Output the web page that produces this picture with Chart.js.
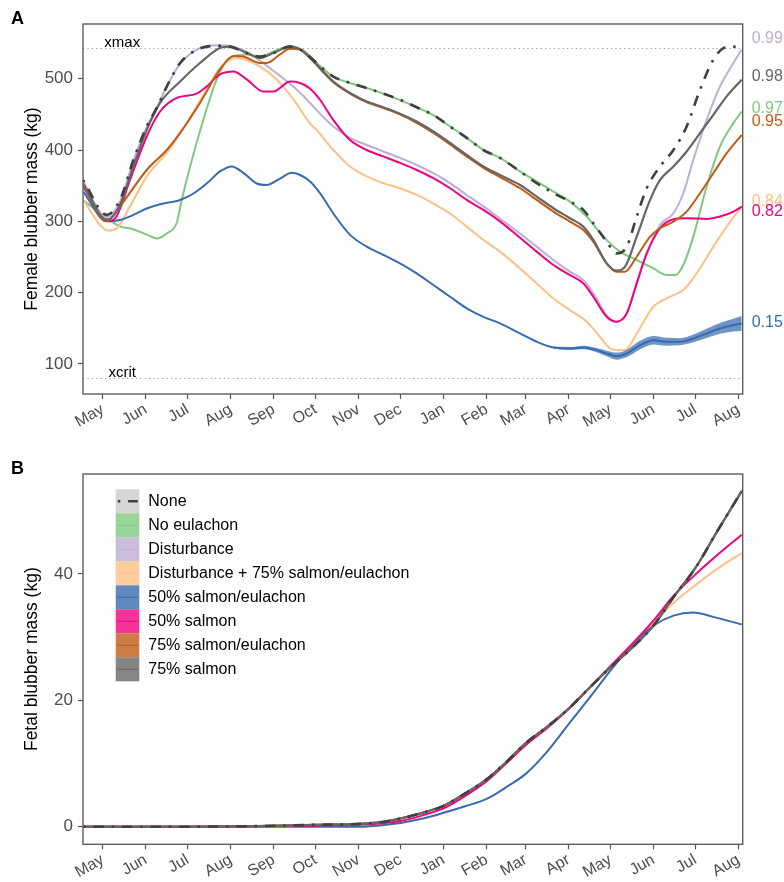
<!DOCTYPE html>
<html>
<head>
<meta charset="utf-8">
<script src="https://cdn.jsdelivr.net/npm/chart.js@4.4.1/dist/chart.umd.min.js"></script>
<style>
  html, body { margin: 0; padding: 0; background: #ffffff; }
  #wrap { position: relative; width: 784px; height: 882px; overflow: hidden; }
  canvas { position: absolute; left: 0; }
</style>
</head>
<body>
<div id="wrap">
  <canvas id="panelA" width="784" height="440" style="top:0px;width:784px;height:440px"></canvas>
  <canvas id="panelB" width="784" height="432" style="top:450px;width:784px;height:432px"></canvas>
</div>
<script>
// ---- time axis: days counted from 1 May of the first year ----
const monthDays   = [0, 31, 61, 92, 123, 153, 184, 214, 245, 276, 304, 335, 365, 396, 426, 457];
const monthLabels = ['May','Jun','Jul','Aug','Sep','Oct','Nov','Dec','Jan','Feb','Mar','Apr','May','Jun','Jul','Aug'];
const dayRange    = [-14.2, 460.1];

// ---- scenarios ----
const scenarios = ['None', 'No eulachon', 'Disturbance', 'Disturbance + 75% salmon/eulachon',
                   '50% salmon/eulachon', '50% salmon', '75% salmon/eulachon', '75% salmon'];
const scenarioColors = ['#404040', '#7FC97F', '#BEAED4', '#FDC086', '#386CB0', '#F0027F', '#BF5B17', '#666666'];
const keyFills = ['rgba(204,204,204,0.8)', 'rgba(127,201,127,0.8)', 'rgba(190,174,212,0.8)', 'rgba(253,192,134,0.8)',
                  'rgba(56,108,176,0.8)', 'rgba(240,2,127,0.8)', 'rgba(191,91,23,0.8)', 'rgba(102,102,102,0.8)'];
// probability shown at the right end of each female trajectory
const endProbability = [null, 0.97, 0.99, 0.84, 0.15, 0.82, 0.95, 0.98];

// ---- reference levels (kg) ----
const xmaxLevel  = 543.5;
const xcritLevel = 80;

// ---- panel A: female blubber mass (kg), [day, kg] ----
const femaleNone = [[-14.2,358],[2.9,309],[12.4,330],[22,386],[31.6,433],[38.8,459],[46,489],[55.6,522],[65.2,538],[74.7,545],[84.3,546],[91.5,545],[103.5,536],[113.1,531],[122.7,536],[134.7,545],[141.9,541],[149.1,530],
  [153.8,522],[165.8,503],[177.8,494],[189.8,487],[201.7,479],[213.7,470.5],[225.7,460],[237.7,449],[249.7,433],[261.7,417],[273.7,400],[285.6,389],[300,370],
  [312,353.5],[324,339.5],[335.9,327.7],[345.5,316],[352.7,297.3],[362.3,271.5],[369.5,255],[376.7,264.5],[383.9,306.7],[391.1,346.4],[400.7,377],[410.3,400],[419.8,433],[429.4,484.5],[439,526.7],[446.2,543],[452,545],[459.4,544.5]];

const femaleNoEulachon = [[-14.2,330],[2.9,304],[12.4,293],[22,289],[31,282],[39,276],[46,283],[53.2,298],[56.8,330],[62.8,377],[72.3,442],[81.9,499],[91.5,529],[103.5,534],[113.1,531],[122.7,538],[134.7,546],[141.9,542],[149.1,532],
  [153.8,522],[165.8,503],[177.8,494],[189.8,487],[201.7,479],[213.7,470],[225.7,460],[237.7,449],[249.7,433],[261.7,417],[273.7,400],[285.6,389],[300,370],
  [312,355.8],[324,341.8],[335.9,327.7],[347.9,306.7],[359.9,278.6],[371.9,257.5],[383.9,245.8],[395.9,234],[405.5,224.7],[411.5,224.7],[417.4,238.8],[424.6,278.6],[434.2,348.8],[443.8,405],[453.4,437.7],[459.4,454]];

const femaleDisturbance = [[-14.2,356],[2.9,306],[12.4,328],[22,385],[31.6,432],[38.8,459],[46,489],[55.6,521],[65.2,538],[74.7,546],[84.3,547],[91.5,546],[103.5,538],[118,518],[137,489],[149.1,466],
  [153.8,456],[165.8,433],[177.8,417],[189.8,407],[201.7,398],[213.7,389],[225.7,379],[237.7,367.5],[249.7,353.5],[261.7,337],[273.7,321],[285.6,304],[300,283],
  [312,264.5],[324,245.8],[335.9,229.4],[345.5,217.7],[352.7,199],[362.3,168.5],[369.5,159.2],[376.7,170.9],[383.9,213],[391.1,255],[400.7,294.9],[410.3,311.3],[417.4,339.4],[424.6,386.2],[434.2,442.4],[443.8,489.2],[453.4,522],[459.4,540.7]];

const femaleDist75 = [[-14.2,330],[4,287],[10,290],[19.6,321],[31.6,363],[46,396],[60.4,438],[74.7,485],[84.3,515],[96.3,529],[108.3,522],[122.7,503],[137.1,471],[149.1,437],
  [153.8,428],[165.8,400],[177.8,377],[189.8,363],[201.7,353.5],[213.7,346.4],[225.7,337],[237.7,325],[249.7,311],[261.7,292.6],[273.7,274],[285.6,257.5],[300,234],
  [312,213],[324,191.9],[335.9,175.6],[347.9,159.2],[357.5,138.1],[364.7,121.7],[369.5,119.4],[375.5,119.4],[383.9,142.8],[395.9,180.3],[407.9,194.3],[417.4,203.7],[427,227.1],[439,264.5],[448.6,292.6],[459.4,320.7]];

const femaleSE50 = [[-14.2,342],[2.9,300],[12.4,302],[22,309],[31.6,318],[41.2,324],[55.6,330],[65.2,339],[74.7,353],[84.3,370],[92.7,377],[101.1,368],[110.7,353],[117.9,351],[127.5,360],[135.9,368],[141.9,365],[149.1,356],
  [156.2,339.5],[165.8,311],[177.8,281],[189.8,264.5],[201.7,253],[213.7,241],[225.7,227],[237.7,210.7],[249.7,194.3],[261.7,178],[273.7,166],[285.6,157],[300,142.8],
  [312,131.1],[324,123.1],[335.9,121.7],[345.5,123.1],[355.1,119.4],[362.3,114.7],[369.5,111],[376.7,114.7],[386.3,126.4],[395.9,133.4],[405.5,131.1],[415,131.1],[424.6,135.8],[434.2,142.8],[443.8,149.8],[453.4,154.5],[459.4,156.8]];

// uncertainty band for 50% salmon/eulachon: [day, low, high]
const femaleSE50Band = [[324,121.8,124.4],[335.9,119.7,123.7],[345.5,120.6,125.6],[355.1,116.4,122.4],[362.3,110.7,118.7],[369.5,106,116],[376.7,109.7,119.7],[386.3,120.4,132.4],[395.9,127.4,139.4],[405.5,125.6,136.6],[415,126.1,136.1],[424.6,130.3,141.3],[434.2,136.3,149.3],[443.8,142.3,157.3],[453.4,145.5,163.5],[459.4,146.3,167.3]];

const femaleS50 = [[-14.2,349],[4.1,300],[10,307],[19.6,358],[31.6,419],[41.2,454],[53.2,473],[67.5,479],[74.7,489],[84.3,506],[93.9,510],[103.5,499],[115.5,482],[122.7,482],[134.7,496],[141.9,494],[149.1,486],
  [156.2,470.5],[165.8,442],[177.8,414],[189.8,400],[201.7,391],[213.7,382],[225.7,372],[237.7,360.5],[249.7,346.4],[261.7,330],[273.7,316],[285.6,300],[300,277],
  [312,257.5],[324,238.8],[335.9,224.7],[345.5,213],[352.7,194.3],[362.3,166.2],[369.5,159.2],[376.7,170.9],[383.9,213],[391.1,255],[400.7,290.3],[410.3,302.9],[419.8,304.3],[434.2,303.4],[443.8,306.7],[453.4,313.7],[459.4,320.7]];

const femaleSE75 = [[-14.2,351],[2.9,300],[12.4,321],[31.6,372],[46,400],[55.6,424],[69.9,466],[84.3,513],[93.9,532],[101.1,531],[113.1,522],[117.9,522],[127.5,534],[134.7,542],[141.9,541],[149.1,529],
  [153.8,519],[165.8,495],[177.8,479],[189.8,467],[201.7,459],[213.7,450],[225.7,438],[237.7,424],[249.7,408],[261.7,391],[273.7,375],[285.6,362],[300,346.4],
  [312,330],[324,313.7],[335.9,299.6],[345.5,288],[352.7,271.5],[362.3,241.1],[369.5,229.4],[375.5,229.4],[383.9,250.4],[393.5,278.6],[400.7,290.3],[410.3,299.6],[419.8,313.7],[429.4,339.4],[439,367.5],[448.6,395.6],[459.4,421.3]];

const femaleS75 = [[-14.2,353],[2.9,302],[12.4,323],[22,377],[31.6,428],[41.2,466],[55.6,496],[69.9,522],[84.3,543],[91.5,545],[103.5,536],[113.1,529],[122.7,536],[134.7,545],[141.9,541],[149.1,529],
  [153.8,520],[165.8,496],[177.8,480],[189.8,468],[201.7,460],[213.7,451],[225.7,440],[237.7,426],[249.7,410],[261.7,393],[273.7,377],[285.6,365],[300,351],
  [312,334.7],[324,318.4],[335.9,304.3],[345.5,292.6],[352.7,273.9],[362.3,241.1],[369.5,230.8],[375.5,236.4],[383.9,278.6],[393.5,330],[400.7,358.1],[410.3,376.9],[419.8,398],[429.4,423.7],[439,449.4],[448.6,475.2],[459.4,498.6]];

// ---- panel B: fetal blubber mass (kg), [day, kg] ----
const fetalFull = [[-14.2,0],[61,0],[92,0.05],[123,0.15],[153,0.3],[184,0.45],[199,0.7],[214,1.3],[230,2.2],[245,3.3],[260,5.2],[276,7.5],[290,10.2],[304,13.2],[320,15.9],[335,18.7],[350,22],[365.4,25.3],[381,28.4],[395.9,31.8],[410.3,36.3],[426.6,41.1],[441.4,46.6],[459.4,53.1]];
const fetalDist75 = [[-14.2,0],[61,0],[92,0.05],[123,0.15],[153,0.3],[184,0.45],[199,0.7],[214,1.3],[230,2.2],[245,3.3],[260,5.2],[276,7.5],[290,10.2],[304,13.2],[320,15.9],[335,18.7],[350,22],[365.4,25.3],[381,28.4],[397,32.4],[410.3,35.4],[426.6,38.3],[443.8,41.1],[459.4,43.3]];
const fetalSE50 = [[-14.2,0],[153,0],[184,0],[199,0.2],[214,0.6],[230,1.3],[245,2.2],[260,3.2],[276,4.4],[290.4,6.3],[304.3,8.4],[319.2,11.8],[335.2,16.3],[350.3,20.5],[365.4,24.8],[381.5,29],[395.9,31.8],[410.3,33.4],[424.7,33.9],[439,33.2],[459.4,32.0]];
const fetalS50 = [[-14.2,0],[92,0],[123,0.1],[153,0.2],[184,0.3],[199,0.5],[214,0.9],[230,1.8],[245,2.9],[260,4.8],[276,7.2],[290,10],[304,12.9],[320,15.7],[335,18.6],[350,22],[365.4,25.5],[381,29],[395.9,32.6],[410.3,36.5],[426.6,40],[441.4,42.9],[459.4,46.2]];

const femaleSeries = [femaleNone, femaleNoEulachon, femaleDisturbance, femaleDist75, femaleSE50, femaleS50, femaleSE75, femaleS75];
const fetalSeries  = [fetalFull, fetalFull, fetalFull, fetalDist75, fetalSE50, fetalS50, fetalFull, fetalFull];

// ---- axis ticks ----
const femaleTicks = [100, 200, 300, 400, 500];
const fetalTicks  = [0, 20, 40];

// ---------------------------------------------------------------
const FONT = "'Liberation Sans', Arial, Helvetica, sans-serif";
const NONE_DASH = [2.6, 7.8, 10.4, 7.8];
const toXY = pairs => pairs.map(p => ({ x: p[0], y: p[1] }));

// draw order: first dataset ends up on top
const drawOrder = [0, 7, 6, 5, 4, 3, 2, 1];

function scenarioDatasets(series) {
  return drawOrder.map(i => {
    const isNone = i === 0;
    return {
      label: scenarios[i],
      data: toXY(series[i]),
      borderColor: scenarioColors[i],
      backgroundColor: scenarioColors[i],
      borderWidth: isNone ? 2.6 : (i === 7 ? 2.2 : 2),
      borderDash: isNone ? NONE_DASH : [],
      borderCapStyle: 'butt',
      borderJoinStyle: 'round',
      pointRadius: 0,
      fill: false,
      cubicInterpolationMode: 'monotone'
    };
  });
}

function xAxis(height) {
  return {
    type: 'linear',
    min: dayRange[0],
    max: dayRange[1],
    afterBuildTicks: s => { s.ticks = monthDays.map(v => ({ value: v })); },
    afterFit: s => { s.height = height; },
    ticks: {
      autoSkip: false, minRotation: 30, maxRotation: 30, padding: 1,
      color: '#4d4d4d', font: { family: FONT, size: 16 },
      callback: (v, i) => monthLabels[i]
    },
    grid: { drawOnChartArea: false, drawTicks: true, tickLength: 5, tickColor: '#555555', tickWidth: 1.2 },
    border: { display: false }
  };
}

function yAxis(min, max, ticks, title) {
  return {
    type: 'linear', min, max,
    afterBuildTicks: s => { s.ticks = ticks.map(v => ({ value: v })); },
    afterFit: s => { s.width = 83; },
    ticks: { padding: 5, color: '#4d4d4d', font: { family: FONT, size: 17 } },
    grid: { drawOnChartArea: false, drawTicks: true, tickLength: 5, tickColor: '#555555', tickWidth: 1.2 },
    border: { display: false },
    title: { display: true, text: title, color: '#000000', font: { family: FONT, size: 17.5 }, padding: { top: 22, bottom: 0 } }
  };
}

const framePlugin = {
  id: 'panelFrame',
  afterDraw(chart, args, opts) {
    const { ctx, chartArea: a } = chart;
    ctx.save();
    ctx.strokeStyle = '#5e5e5e';
    ctx.lineWidth = 1.4;
    ctx.strokeRect(a.left, a.top, a.right - a.left, a.bottom - a.top);
    ctx.fillStyle = '#000000';
    ctx.font = 'bold 18px ' + FONT;
    ctx.textBaseline = 'middle';
    ctx.textAlign = 'left';
    ctx.fillText(opts.letter, 11, 19);
    ctx.restore();
  }
};

const levelsPlugin = {
  id: 'massLevels',
  beforeDatasetsDraw(chart) {
    const { ctx, chartArea: a, scales } = chart;
    const y = scales.y, x = scales.x;
    ctx.save();
    ctx.strokeStyle = '#9c9c9c';
    ctx.lineWidth = 1;
    ctx.setLineDash([1.2, 3.2]);
    [[xmaxLevel, 'xmax'], [xcritLevel, 'xcrit']].forEach(([lvl, txt]) => {
      const py = Math.round(y.getPixelForValue(lvl)) + 0.5;
      ctx.beginPath(); ctx.moveTo(a.left, py); ctx.lineTo(a.right, py); ctx.stroke();
      ctx.fillStyle = '#000000';
      ctx.font = '15px ' + FONT;
      ctx.textAlign = 'center';
      ctx.textBaseline = 'middle';
      ctx.fillText(txt, x.getPixelForValue(14), py - 6);
    });
    ctx.restore();
  },
  afterDraw(chart, args, opts) {
    const { ctx, chartArea: a, scales } = chart;
    const nudges = opts.nudges;
    ctx.save();
    ctx.font = '16px ' + FONT;
    ctx.textAlign = 'left';
    ctx.textBaseline = 'middle';
    endProbability.forEach((p, i) => {
      if (p === null) return;
      const s = femaleSeries[i];
      const last = s[s.length - 1][1];
      ctx.fillStyle = scenarioColors[i];
      ctx.fillText(p.toFixed(2), a.right + 9, scales.y.getPixelForValue(last) + nudges[i]);
    });
    ctx.restore();
  }
};

const keyPlugin = {
  id: 'scenarioKey',
  afterDraw(chart) {
    const { ctx, chartArea: a } = chart;
    const x0 = a.left + 32.7, y0 = a.top + 15.3, kw = 23.6, kh = 24;
    ctx.save();
    scenarios.forEach((name, i) => {
      const y = y0 + i * kh;
      ctx.fillStyle = keyFills[i];
      ctx.fillRect(x0, y, kw, kh);
      ctx.strokeStyle = scenarioColors[i];
      ctx.lineCap = 'butt';
      if (i === 0) { ctx.lineWidth = 2.6; ctx.setLineDash(NONE_DASH); }
      else { ctx.lineWidth = 1; ctx.setLineDash([]); }
      ctx.beginPath();
      ctx.moveTo(x0 + 2, y + kh / 2);
      ctx.lineTo(x0 + kw - 1.5, y + kh / 2);
      ctx.stroke();
      ctx.setLineDash([]);
      ctx.fillStyle = '#000000';
      ctx.font = '16px ' + FONT;
      ctx.textAlign = 'left';
      ctx.textBaseline = 'middle';
      ctx.fillText(name, x0 + kw + 9, y + kh / 2 + 0.5);
    });
    ctx.restore();
  }
};

// ---- panel A ----
const bandData = {
  lo: femaleSE50Band.map(r => ({ x: r[0], y: r[1] })),
  hi: femaleSE50Band.map(r => ({ x: r[0], y: r[2] }))
};
const datasetsA = scenarioDatasets(femaleSeries);
const se50Index = datasetsA.findIndex(d => d.label === '50% salmon/eulachon');
datasetsA.splice(se50Index + 1, 0,
  { label: 'band-hi', data: bandData.hi, borderWidth: 0, borderColor: 'rgba(0,0,0,0)', pointRadius: 0,
    backgroundColor: 'rgba(56,108,176,0.72)', fill: '+1', cubicInterpolationMode: 'monotone' },
  { label: 'band-lo', data: bandData.lo, borderWidth: 0, borderColor: 'rgba(0,0,0,0)', pointRadius: 0,
    fill: false, cubicInterpolationMode: 'monotone' });

new Chart(document.getElementById('panelA'), {
  type: 'line',
  data: { datasets: datasetsA },
  options: {
    responsive: false,
    animation: false,
    parsing: false,
    layout: { padding: { top: 24, right: 41.3, left: 0, bottom: 0 } },
    scales: {
      x: xAxis(46),
      y: yAxis(57.9, 576.7, femaleTicks, 'Female blubber mass (kg)')
    },
    plugins: {
      legend: { display: false },
      tooltip: { enabled: false },
      panelFrame: { letter: 'A' },
      massLevels: { nudges: [0, -2.5, -10.8, -5.2, -1.2, 4.8, -12.8, -3.5] }
    }
  },
  plugins: [framePlugin, levelsPlugin]
});

// ---- panel B ----
new Chart(document.getElementById('panelB'), {
  type: 'line',
  data: { datasets: scenarioDatasets(fetalSeries) },
  options: {
    responsive: false,
    animation: false,
    parsing: false,
    layout: { padding: { top: 24, right: 41.3, left: 0, bottom: 0 } },
    scales: {
      x: xAxis(37.7),
      y: yAxis(-2.78, 55.8, fetalTicks, 'Fetal blubber mass (kg)')
    },
    plugins: {
      legend: { display: false },
      tooltip: { enabled: false },
      panelFrame: { letter: 'B' }
    }
  },
  plugins: [framePlugin, keyPlugin]
});
</script>
</body>
</html>
